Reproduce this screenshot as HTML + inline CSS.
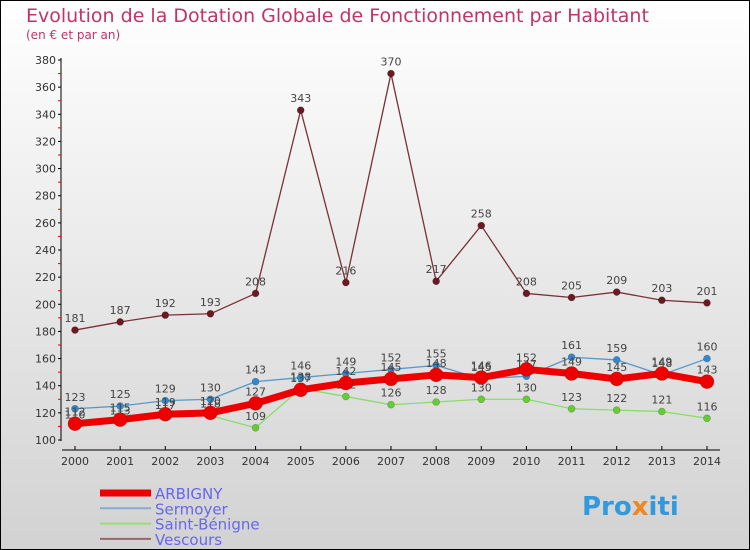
<!DOCTYPE html>
<html><head><meta charset="utf-8"><style>
body{margin:0;padding:0}
svg{display:block;font-family:"DejaVu Sans","Liberation Sans",sans-serif}
</style></head><body>
<svg id="c" width="750" height="550" viewBox="0 0 750 550">
<defs><linearGradient id="bg" x1="0" y1="0" x2="0" y2="1"><stop offset="0" stop-color="#ffffff"/><stop offset="1" stop-color="#d2d2d2"/></linearGradient></defs>
<rect x="0.5" y="0.5" width="749" height="549" fill="url(#bg)" stroke="#000"/>
<text x="26" y="22" font-size="19" fill="#c03468">Evolution de la Dotation Globale de Fonctionnement par Habitant</text>
<text x="26" y="39" font-size="12" fill="#c03468">(en € et par an)</text>
<g id="axes"></g>
<g id="series"></g>
<g id="legend"></g>
<text x="582" y="515" font-size="26" font-weight="bold" fill="#3399dd">Pro<tspan fill="#ee8822">x</tspan>iti</text>
</svg>
<script>
const years=[2000,2001,2002,2003,2004,2005,2006,2007,2008,2009,2010,2011,2012,2013,2014];
const yTicks=[100,120,140,160,180,200,220,240,260,280,300,320,340,360,380];
const arbigny=[112,115,119,120,127,137,142,145,148,146,152,149,145,149,143];
const sermoyer=[123,125,129,130,143,146,149,152,155,145,147,161,159,148,160];
const saintBenigne=[110,113,117,118,109,138,132,126,128,130,130,123,122,121,116];
const vescours=[181,187,192,193,208,343,216,370,217,258,208,205,209,203,201];
const NS="http://www.w3.org/2000/svg";
const X=i=>75+i*(707-75)/14;
const Y=v=>440-(v-100)*(380/280);
function mk(t,a,p){const e=document.createElementNS(NS,t);for(const k in a)e.setAttribute(k,a[k]);p.appendChild(e);return e;}
const ax=document.getElementById('axes');
let l=mk('line',{x1:61,y1:58,x2:61,y2:441,stroke:'#000'},ax);


l=mk('line',{x1:62,y1:450,x2:720,y2:450,stroke:'#000'},ax);


yTicks.forEach(v=>{
 mk('line',{x1:58,x2:61,y1:Y(v),y2:Y(v),stroke:'#000'},ax);
 if(v<380)mk('line',{x1:58,x2:61,y1:Y(v+10),y2:Y(v+10),stroke:'#e00'},ax);
 const t=mk('text',{x:56,y:Y(v)+4,'font-size':11,'text-anchor':'end',fill:'#333'},ax);t.textContent=v;
 
 
});
years.forEach((y,i)=>{
 mk('line',{x1:X(i),x2:X(i),y1:446,y2:450,stroke:'#000'},ax);
 const t=mk('text',{x:X(i),y:465,'font-size':11,'text-anchor':'middle',fill:'#333'},ax);t.textContent=y;
 
 
});
const sg=document.getElementById('series');
const defs=[
 {d:vescours,c:'#7a3038',f:'#6a1a22',w:1.3,r:3.5,n:'vescours'},
 {d:saintBenigne,c:'#88dd66',f:'#66cc33',w:1.3,r:3.5,n:'saint-benigne'},
 {d:sermoyer,c:'#5599cc',f:'#3388cc',w:1.3,r:3.5,n:'sermoyer'},
 {d:arbigny,c:'#ee0000',f:'#ee0000',w:7,r:7,n:'arbigny'}];
defs.forEach(s=>{
 const g=mk('g',{},sg);
 
 
 const p=mk('polyline',{points:s.d.map((v,i)=>X(i)+','+Y(v)).join(' '),fill:'none',stroke:s.c,'stroke-width':s.w,'stroke-linejoin':'round'},g);
 
 
 s.d.forEach((v,i)=>{
  const c=mk('circle',{cx:X(i),cy:Y(v),r:s.r,fill:s.f,stroke:'rgba(0,0,0,0.25)','stroke-width':0.6},g);
  
  
  const t=mk('text',{x:X(i),y:Y(v)-8,'font-size':11,'text-anchor':'middle',fill:'#444'},g);t.textContent=v;
  
  
 });
});
const lg=document.getElementById('legend');
[['ARBIGNY','#ee0000',7],['Sermoyer','#88aacc',2],['Saint-Bénigne','#99dd77',2],['Vescours','#996666',2]].forEach((e,i)=>{
 const y=493+i*15.3;
 const g=mk('g',{},lg);
 
 
 mk('line',{x1:100,x2:151,y1:y,y2:y,stroke:e[1],'stroke-width':e[2]},g);
 const t=mk('text',{x:155,y:y+6,'font-size':15,fill:'#6666ee'},g);t.textContent=e[0];
});
</script>
</body></html>
